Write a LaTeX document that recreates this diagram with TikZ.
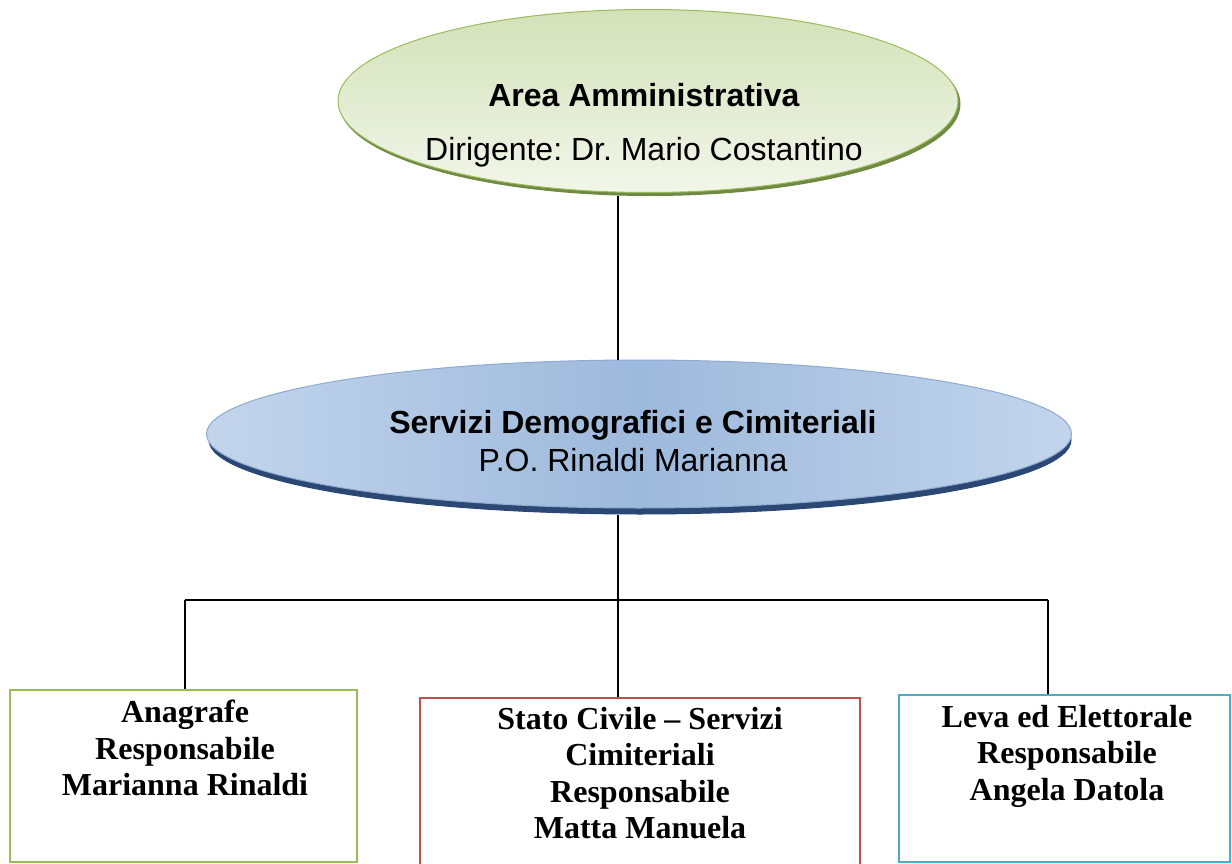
\documentclass[tikz,border=0pt]{standalone}
\usepackage{fontspec}
\setmainfont{Liberation Serif}
\setsansfont{Liberation Sans}
\usetikzlibrary{shapes.geometric,positioning}
\frenchspacing

\definecolor{areagreen}{HTML}{9BBB59}
\definecolor{areashadow}{HTML}{6F8A45}
\definecolor{areatop}{HTML}{D2E2B8}
\definecolor{areabot}{HTML}{F2F6EA}
\definecolor{demoedge}{HTML}{C3D5EC}
\definecolor{demomid}{HTML}{9DB9DC}
\definecolor{demoline}{HTML}{8EAAD3}
\definecolor{demoshadow}{HTML}{2B4874}
\definecolor{boxred}{HTML}{C0504D}
\definecolor{boxcyan}{HTML}{4BACC6}

\begin{document}
\begin{tikzpicture}
[x=1pt,y=-1pt,%
  every node/.style={inner sep=0pt},%
  ell/.style={shape=ellipse,draw,line width=1pt},%
  unit/.style={shape=rectangle,draw,line width=2.5pt,fill=white},%
  elltxt/.style={anchor=north,align=center,font=\sffamily\fontsize{32}{54}\selectfont},%
  unittxt/.style={anchor=north,align=center,font=\bfseries\fontsize{32}{36.5}\selectfont},%
  link/.style={draw=black,line width=1.3pt}]
\useasboundingbox (0,0) rectangle (1232,864);

% bus coordinates
\coordinate (bus) at (618,600);
\coordinate (busL) at (185,600);
\coordinate (busR) at (1048,600);

% ellipses
\node[ell,draw=areashadow,fill=areashadow,minimum width=620pt,minimum height=183pt]
  (areash) at (650,104) {};
\node[ell,draw=areagreen,top color=areatop,bottom color=areabot,
  minimum width=620pt,minimum height=183pt] (area) at (648,101) {};
\node[elltxt] (areatxt) at (644,83) {\textbf{Area Amministrativa}\\Dirigente: Dr. Mario Costantino};

\node[ell,draw=demoshadow,fill=demoshadow,minimum width=862pt,minimum height=148pt]
  (demosh) at (640,440) {};
\node[ell,draw=demoline,left color=demoedge,right color=demoedge,middle color=demomid,
  minimum width=865pt,minimum height=148pt] (demo) at (639,434) {};
\node[elltxt,font=\sffamily\fontsize{32}{38}\selectfont] (demotxt) at (633,410)
  {\textbf{Servizi Demografici e Cimiteriali}\\P.O. Rinaldi Marianna};

% boxes
\node[unit,draw=areagreen,minimum width=347pt,minimum height=172pt] (ana) at (183.5,776) {};
\node[unit,draw=boxred,minimum width=440pt,minimum height=170pt] (stato) at (640,783) {};
\node[unit,draw=boxcyan,minimum width=331pt,minimum height=167pt] (leva) at (1064.5,778.5) {};

\node[unittxt] (anatxt) at (185,700) {Anagrafe\\Responsabile\\Marianna Rinaldi};
\node[unittxt] (statotxt) at (640,707) {Stato Civile -- Servizi\\Cimiteriali\\Responsabile\\Matta Manuela};
\node[unittxt] (levatxt) at (1067,705) {Leva ed Elettorale\\Responsabile\\Angela Datola};

% connectors
\draw[link] (areash.south -| bus) -- (demo.north -| bus);
\draw[link] (demosh.south -| bus) -- (bus);
\draw[link] (busL) -- (busR);
\draw[link] (busL) -- (busL |- ana.north);
\draw[link] (bus) -- (bus |- stato.north);
\draw[link] (busR) -- (busR |- leva.north);
\end{tikzpicture}
\end{document}
